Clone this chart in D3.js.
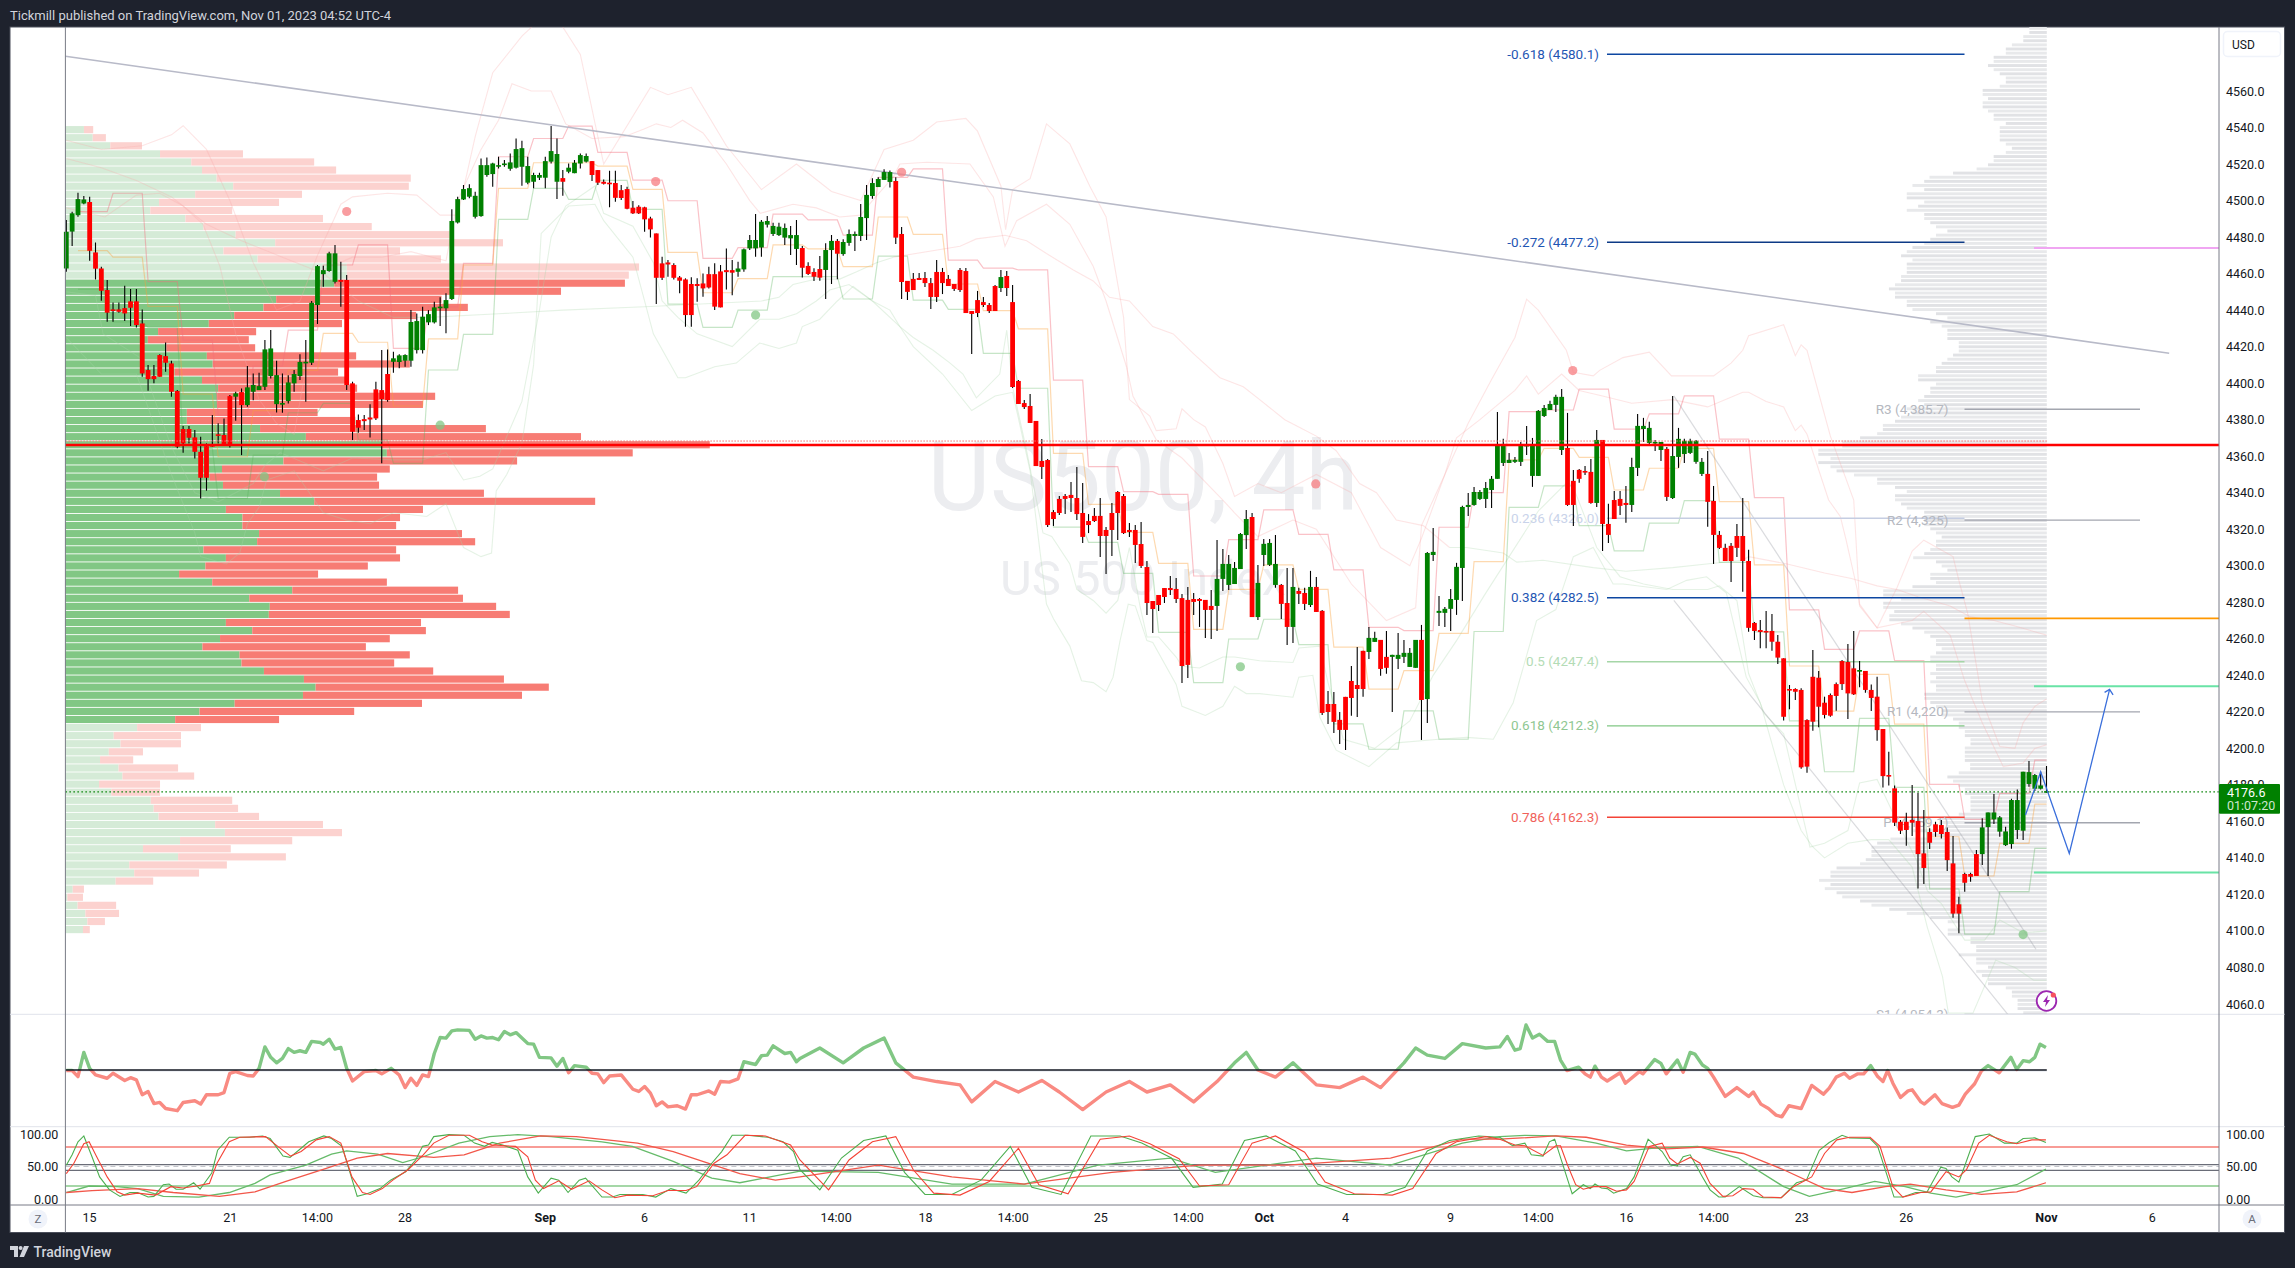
<!DOCTYPE html>
<html><head><meta charset="utf-8">
<script src="https://cdn.jsdelivr.net/npm/d3@7"></script>
<style>html,body{margin:0;padding:0;background:#1e222d;overflow:hidden}svg{display:block}text{font-family:Roboto,"Noto Sans",sans-serif}</style>
</head><body><svg id="c" width="2295" height="1268"></svg>
<script>
// [open, high, low, close]
const candlesAug=[[4462.8,4489.3,4461,4482.9],[4483,4493.9,4475.1,4493],[4492,4504.3,4491.1,4500.8],[4498.4,4502.5,4498,4500.6],[4499.2,4502.1,4467,4472.5],[4471.6,4477.1,4456.8,4462.7],[4462.8,4463.8,4445.1,4450.6],[4451,4456.5,4433.6,4438.6],[4440.4,4444.2,4433.6,4439.7],[4440.4,4444.2,4438.6,4439.1],[4441.1,4453.4,4434,4438.2],[4444.8,4451.5,4431.3,4441.3],[4444.8,4451.5,4430.5,4431.8],[4432.7,4440.4,4403.5,4405.3],[4407.2,4409.9,4395.9,4402.2],[4403.9,4409.9,4399.9,4402.2],[4415.4,4415.9,4403.5,4403.5],[4414.8,4422.3,4406.3,4411.2],[4410.8,4412.3,4392.6,4395.3],[4395.7,4396.2,4364.3,4365.2],[4374.9,4376.5,4361.9,4367],[4374.9,4376.5,4367,4370.1],[4370.3,4374.3,4358.8,4362.4],[4362.4,4370.7,4336.9,4348.2],[4365.5,4367,4341.1,4348.2],[4366.1,4382.5,4365.2,4365.5],[4372,4378,4367,4371.2],[4371.6,4380.7,4366.1,4366.6],[4392.9,4393.5,4364.8,4366.1],[4392.6,4395.3,4379.4,4394.4],[4395.1,4397.1,4360.6,4388],[4388,4409.4,4387.1,4397.7],[4395.3,4405.3,4390.7,4399],[4396.2,4405.7,4396.2,4398.4],[4398,4423.6,4396.2,4418.5],[4403.9,4429.1,4402.6,4419],[4388.5,4412.3,4384,4404.4],[4388.5,4405.3,4383.8,4389.1],[4390.2,4404.4,4388.9,4400.4],[4399.9,4407.2,4395.3,4405],[4403.9,4415.9,4401.7,4411.6],[4411.2,4423.6,4389.8,4411.7],[4411.2,4445,4409.9,4444],[4442.8,4464.7,4432.4,4464.1],[4459.7,4464.3,4452.8,4461.9],[4461.4,4472,4461,4471.1],[4455.5,4475.6,4454.6,4471.1],[4456.5,4466.5,4441.9,4455.5],[4456.5,4459.2,4396.2,4399],[4399.9,4400.8,4368.8,4373.4],[4379.8,4382.9,4372.8,4375.6],[4380.3,4382.5,4374.3,4379.2],[4381.2,4388.5,4370.3,4380.1],[4396.6,4400.8,4379.8,4380.7],[4396.2,4418.1,4356.1,4391.3],[4405,4418.5,4389.8,4390.7],[4411.7,4417.2,4405.7,4413.6],[4411.6,4415.9,4408.1,4415.2],[4412.3,4415.9,4409,4415.4],[4412.3,4440,4409,4433.5],[4418.1,4438.2,4416.3,4434],[4418.1,4441.9,4416.3,4436.4],[4433.3,4440,4431.8,4437.8],[4433.3,4444.6,4432.7,4441.5],[4441.3,4447,4431.3,4441.9],[4441,4449.2,4427.3,4445.5],[4446.1,4495.3,4445.5,4488.8],[4488,4502.1,4487.5,4500.8],[4500.6,4508.5,4500.3,4506.3],[4502.1,4509,4501.2,4506.8],[4491.1,4504.8,4490.2,4502.6],[4491.5,4523.1,4491.1,4519.4],[4514,4523.6,4513,4519.4],[4514.5,4520.7,4507.6,4520.3],[4518.9,4524,4517.6,4519.4],[4519.6,4522.2,4518.5,4520.3],[4517.4,4525.8,4516.3,4520.9],[4518,4534,4517.6,4528.2],[4518.5,4532.8,4508.1,4528.7],[4509.8,4524,4509,4518.9],[4510.3,4515.2,4506.7,4514],[4512.5,4515.2,4511.2,4514],[4512.5,4524,4506.7,4521.6],[4521.3,4540.8,4520.3,4527.1],[4510.3,4534,4500.8,4525.5]];
const candlesSep=[[4512.3,4516.7,4502.6,4510.3],[4515.8,4520.3,4514.9,4518],[4515,4522.2,4514.9,4520.7],[4520.3,4525.8,4517.6,4524.9],[4521.3,4525.8,4520.9,4524.4],[4521.6,4521.6,4510.7,4514],[4516.7,4516.7,4508.5,4509.8],[4510.3,4511.6,4508.8,4509.2],[4509.8,4516.3,4496.3,4509],[4509.6,4516.3,4499.4,4501.5],[4505.7,4508.5,4500.3,4501.4],[4506.3,4507.6,4495.2,4495.5],[4496.1,4499.7,4492.6,4493],[4496.6,4497.5,4492.6,4493],[4496.3,4496.6,4482.9,4489.7],[4490.2,4491.1,4479.8,4484.2],[4482,4482,4443.3,4457.7],[4465.6,4469.2,4456.5,4457.7],[4466.1,4467.4,4458.3,4465],[4464.7,4465.6,4456.8,4457.7],[4457.9,4458.7,4449.2,4456.1],[4456.8,4457.4,4430.9,4437.3],[4454.3,4458,4430.9,4437.3],[4454.3,4457.4,4444.6,4453.2],[4454.6,4460.1,4447.3,4451.9],[4459.7,4463.8,4451.9,4452.4],[4459.7,4465.6,4440,4441.9],[4461.2,4464.7,4441.5,4441.5],[4461.9,4473.8,4451.3,4460.8],[4461.9,4467.4,4448.2,4460.5],[4461,4466.5,4458.3,4462.8],[4462.3,4473.8,4461,4473.3],[4473.8,4481.1,4472.9,4478.4],[4473.8,4492.6,4469.2,4478.4],[4474.3,4489.3,4469.2,4488.4],[4486.8,4491.6,4485.2,4488.8],[4481.7,4487.9,4480.6,4486.1],[4481.1,4487.9,4480.6,4485.7],[4479.7,4487.5,4475.7,4485],[4479.3,4486.1,4470.2,4481.1],[4473.5,4489.4,4464.7,4481.1],[4474,4475.1,4457.8,4463.2],[4464.2,4466.2,4459.2,4459.8],[4460.9,4462.9,4456,4458.3],[4462.5,4469.6,4456.1,4457.8],[4462,4476.6,4446.1,4472.9],[4472.9,4481.1,4454.3,4477.9],[4477.9,4479,4456.9,4470.9],[4470.7,4478.8,4469.8,4477.3],[4476.8,4484.2,4475.3,4481.7],[4480.6,4483,4472.4,4481.7],[4480.6,4498.1,4477.9,4491],[4490.4,4508.5,4478.4,4503.1],[4502.5,4512.2,4501,4509.6],[4507.4,4512.7,4507.4,4511.8],[4511.3,4517.1,4511.3,4515.6],[4510.2,4516.4,4507.2,4515.6],[4510.7,4512.7,4476.2,4479.7],[4481.7,4485.5,4446.1,4455.4],[4456,4456,4445.5,4450],[4457.1,4460.3,4451,4451],[4457.6,4460.3,4456.5,4456.5],[4457.6,4460.9,4452.7,4454.8],[4454.8,4457.6,4440.6,4447.2],[4460.9,4467.4,4444.4,4447.2],[4460.9,4463.1,4448.8,4454.8],[4457.1,4459.2,4453.2,4453.2],[4454.3,4454.3,4450.5,4451.6],[4462,4463.1,4449.9,4451],[4461.4,4463.1,4438.4,4438.4],[4439.5,4439.5,4416,4437.9],[4445.5,4450.5,4436.2,4438.4],[4444.4,4447.2,4441.7,4442.8],[4442.8,4443.9,4438.4,4439.5],[4453.2,4453.8,4439.5,4439.5],[4452.1,4462,4449.9,4458.1],[4458.7,4461.4,4447.7,4452.1],[4444.4,4453.8,4397.3,4397.9],[4401.2,4401.7,4388.6,4388.6],[4389.1,4390.8,4385.8,4386.9],[4387.5,4394.1,4378.2,4378.2],[4379.3,4379.3,4354.6,4354.6],[4357.4,4369.4,4347.5,4354.1],[4357.9,4358.5,4321.2,4322.3],[4329.4,4330.5,4321.8,4325.6]];
const candlesOct=[[4336.6,4338.2,4327.8,4328.9],[4338.2,4339.3,4328.3,4336.6],[4338.8,4345.9,4329.4,4337.1],[4337.1,4354.1,4325,4328.3],[4328.9,4345.3,4312.5,4315.8],[4324.5,4328.3,4317.9,4322.3],[4327.3,4331.6,4324,4324.5],[4327.3,4337.1,4304.8,4316.3],[4319.6,4321.2,4295.5,4316.3],[4328.9,4334.4,4305.4,4319.6],[4340.4,4340.9,4314.1,4328.9],[4338.2,4339.3,4317.4,4317.9],[4319.6,4323.4,4315.8,4318.5],[4319.6,4322.3,4301.5,4311.4],[4311.9,4324,4298.8,4299.9],[4299.3,4302.6,4273,4279.6],[4280.7,4280.7,4263.2,4276.3],[4284,4284,4275.2,4278.5],[4287.8,4287.8,4279.6,4282.9],[4287.8,4294.4,4284,4286.7],[4287.3,4293.3,4279.6,4281.8],[4282.3,4284.5,4235.8,4245.1],[4281.3,4288.4,4238.5,4245.7],[4281.8,4285.1,4273,4280.2],[4281.8,4282.3,4266.5,4280.7],[4281.3,4281.3,4260.4,4275.8],[4278,4286.7,4259.9,4275.8],[4278,4314.1,4264.3,4292.8],[4292.8,4309.2,4286.2,4301],[4289.5,4305.9,4286.7,4301],[4290,4302.1,4290,4298.8],[4298.2,4317.9,4298.2,4317.4],[4316.8,4330.5,4309.2,4325.6],[4326.7,4328.9,4271.9,4271.9],[4271.9,4300.4,4270.3,4290.6],[4305.9,4314.7,4299.9,4312],[4300.5,4314.7,4299.9,4312.5],[4289.5,4316.9,4287.9,4301],[4289.5,4290,4270.9,4279.1],[4279.6,4298.8,4256.6,4266.5],[4266.5,4298.8,4257.7,4288.4],[4286.2,4287.9,4279.1,4284.6],[4285.1,4287.9,4275.8,4279.1],[4278.5,4297.2,4277.4,4288.4],[4288.4,4293.9,4274.7,4274.7],[4275.3,4275.8,4218.3,4219.4],[4224.3,4231.4,4213.4,4219.9],[4224.3,4230.9,4208.4,4214.5],[4215.6,4219.9,4202.4,4210.1],[4228.2,4228.2,4199.1,4210.1],[4236.9,4245.1,4217.8,4227.6],[4234.7,4255.5,4217.2,4232.5],[4253.4,4253.4,4228.2,4232.5],[4252.8,4266.5,4249,4260.5],[4258.3,4263.8,4258.3,4260.5],[4259.4,4259.4,4239.7,4243.5],[4250.1,4264.3,4240.8,4244.1],[4250.1,4251.2,4219.9,4251.2],[4249,4263.2,4243.5,4251.2],[4250.1,4259.4,4246.8,4252.3],[4244.6,4255,4244.6,4252.3],[4244.1,4259.4,4244.1,4259.4],[4259.4,4267.6,4204.6,4226.5],[4227,4307.6,4213.9,4307],[4305.9,4320.7,4302.6,4307.6],[4274.2,4283.5,4267,4275.3],[4274.2,4277.4,4266.5,4276.4],[4276.4,4287.3,4264.3,4281.8],[4281.3,4301.6,4273.1,4299.4],[4298.8,4332.8,4280.7,4332.2],[4332.2,4339.9,4327.3,4333.3],[4333.3,4343.2,4332.8,4340.4],[4336.6,4341.5,4336,4340.4],[4336.6,4345.9,4331.7,4342.6],[4341.5,4349.2,4331.7,4347.6],[4347.6,4384.2,4347.6,4366.2],[4356.3,4369.5,4354.7,4366.7],[4356.3,4361.8,4356.3,4358],[4356.9,4359.6,4356.3,4358],[4356.9,4367.8,4354.7,4366.2],[4365.6,4376.6,4360.7,4366.2],[4349.2,4370,4343.2,4366.7],[4349.2,4385.3,4349.2,4384.8],[4382,4388.1,4381.5,4386.4],[4385.3,4390.3,4385.3,4388.6]];
const candlesNov=[[4388.1,4393.6,4384.2,4392.5],[4363.4,4396.8,4360.7,4392.5],[4364.5,4383.7,4332.8,4333.3],[4346.5,4352.5,4321.8,4333.3],[4352.5,4353,4345.4,4347.6],[4351.9,4354.7,4349.7,4351.4],[4351.4,4358.5,4333.9,4334.4],[4334.4,4374.4,4332.2,4368.9],[4368.9,4368.9,4308.1,4322.9],[4322.9,4333.9,4312.5,4316.9],[4336,4341,4325.6,4325.6],[4336.6,4341,4327.8,4332.8],[4334.4,4343.7,4323.5,4333.3],[4333.3,4359.1,4329.5,4354.1],[4353.6,4383.1,4349.2,4376.6],[4374.9,4381,4367.8,4376.6],[4367.3,4378.8,4366.7,4375.5],[4367.3,4368.9,4362.9,4367.8],[4363.4,4367.8,4357.4,4367.8],[4364,4365.1,4335.5,4337.7],[4337.1,4393,4336.6,4360.1],[4359.6,4375.5,4353.6,4369.5],[4361.2,4369.5,4356.3,4368.4],[4361.8,4369.5,4361.2,4368.4],[4356.9,4368.9,4355.8,4368.4],[4350.3,4359,4349.2,4356.9],[4350.3,4362.9,4321.3,4335],[4335.5,4343.7,4301,4316.9],[4316.9,4319.1,4309.2,4309.8],[4309.8,4312,4302.6,4302.6],[4310.9,4312.5,4291.1,4302.6],[4316.3,4322.9,4304.8,4309.8],[4316.3,4337.1,4285.7,4302.6],[4302.6,4308.7,4263.8,4266],[4268.7,4269.2,4259.4,4264.3],[4264.8,4270.3,4254.8,4263.7],[4264.3,4275.2,4254.8,4263.5],[4264.3,4273.6,4253.5,4258.4],[4258.4,4262.1,4246.2,4249.7],[4249.3,4249.3,4215.2,4217.3],[4232.5,4234.7,4221.4,4232],[4232.5,4232.9,4226.5,4231],[4232,4232.9,4188.9,4189.6],[4215.5,4216,4186.7,4190],[4239.2,4253.9,4209.7,4214.6],[4238.7,4242.4,4211.5,4222.8],[4225,4228.3,4216.4,4218.3],[4229.2,4230.1,4217.3,4217.9],[4235.2,4236.1,4220.6,4228.7],[4247.8,4248.4,4232,4235.2],[4247.3,4257.1,4216.1,4230.1],[4243.8,4264.3,4229.2,4229.6],[4242,4247.8,4233.4,4242.9],[4242.4,4242.4,4230.5,4232],[4232,4235,4220.4,4227.6],[4228.3,4239.2,4204.2,4210],[4210.6,4210.6,4178.6,4184.8],[4185.4,4198.2,4179.6,4184.7],[4178.1,4179.7,4157.5,4159.3],[4159.8,4160.8,4153.1,4154.9],[4159.8,4164.8,4146.7,4155.3],[4160.8,4179.9,4152,4159.3],[4160.2,4175.7,4123.3,4142.1],[4142.5,4166.2,4125.7,4134.5],[4154.2,4156.2,4144.9,4148.3],[4158.4,4159.8,4151.6,4154.2],[4158,4160.8,4150.7,4153.1],[4154.2,4156.7,4132.8,4138.8],[4137,4152,4107.3,4109.5],[4114.6,4118.8,4098.7,4109.5],[4131.2,4131.9,4121.5,4126.4],[4131.2,4131.9,4127,4129.7],[4142.1,4144.3,4130.1,4130.1],[4142.1,4161.7,4136.1,4156.7],[4156.9,4164.9,4130.1,4164.9],[4161.1,4175,4158.6,4164.9],[4154.4,4163,4151.6,4162.2],[4147,4157.1,4146.5,4154.5],[4147.6,4172.4,4145,4171.7],[4155.3,4177.5,4150.3,4171.7],[4154.9,4187.2,4149.8,4187.2],[4180.5,4193.1,4179,4187],[4177.9,4185.9,4176.6,4185.4],[4177.9,4187.2,4177.5,4179.7],[4175.7,4190.3,4175.7,4176.6]];

const priceTicks=d3.range(4060,4561,20);
const vpUp=[38,56,92,194,258,280,310,344,266,192,174,246,283,349,430,324,394,577,577,551,512,432,406,346,294,190,169,207,290,302,224,280,313,311,311,249,249,399,493,649,659,447,321,296,323,440,510,329,363,363,397,393,283,329,287,233,301,465,377,419,417,329,383,317,281,357,361,407,489,513,487,347,275,225,147,99,113,89,71,109,117,69,94,175,181,191,307,327,235,159,231,131,141,103,15,4,25,41,45,36];
const vpDown=[19,27,65,170,252,275,398,360,219,246,168,282,345,439,467,362,376,599,578,596,504,339,419,373,273,201,207,182,306,404,335,296,285,447,422,268,345,463,564,672,504,479,344,343,320,418,576,404,323,315,416,447,395,357,333,285,358,340,438,464,494,400,356,348,335,349,313,347,410,478,449,384,317,213,131,138,124,70,68,122,147,125,100,167,173,206,221,240,230,180,221,200,133,77,23,32,79,69,36,14];
const vpRowsTopPrice=4540.8, vpRowStep=4.425, vpValueFirst=19, vpValueLast=73;
const profileUpper=[46,46,62,62,92,108,108,140,140,155,140,124,108,108,124,169,169,155,169,169,155,140,140,108,124,124,124,124,108,92,108,140,140,155,185,247,309,323,354,323,369,369,323,339,369,323,323,307,292,262,292,307,323,354,369,384,354,369,369,369,384,384,400,416,400,400,369,369,354,292,262,307,277,262,262,262,232,232,232,247,262,277,292,292,339,339,292,307,307,323,339,323,369,354,384,400,432,432,447,492,539,539,602,602,570,602,570,554,508,447,447,400,369,400,400,384];
const profileLower=[369,323,323,323,323,307,292,277,292,292,307,323,352,292,277,262,307,307,292,354,431,431,384,431,431,402,415,415,384,354,323,307,292,292,277,292,307,307,292,292,307,292,307,292,292,323,323,307,292,277,277,247,232,232,216,216,201,201,216,216,216,216,202,202,232,262,247,232,216,216,201,201,201,201,232,277,277,262,352,307,412,447,462,462,462,477,492,554,570,570,600,570,585,554,539,492,462,415,369,307,261,232,261,261,201,201,186,186,232,186,186,155,186,171,155,155,108,92,92,77,77,77,62];
const dayStarts=[2,8,14,20,26,32,38,44,50,56,62,68,74,80,86,91,97,103,109,115,121,127,133,139,145,151,157,163,169,175,181,187,193,199,205,211,217,223,229,235,241,247,253,259,265,271,277,283,289,295,301,307,313,319,325,331,337];
const upperLevels=[4493.9,4504,4455.6,4423.6,4382.5,4409.4,4429,4464.7,4475.7,4419,4441.9,4465.6,4524,4534,4540.8,4526.4,4511.2,4499.9,4468.3,4474.2,4492.6,4489.4,4481.1,4512.7,4517.3,4467.4,4463,4462,4401.7,4354.3,4340.6,4339.1,4294.4,4314.3,4330.6,4317.2,4297.7,4266.3,4264.5,4321.1,4340.1,4384.4,4385.3,4396.7,4374.8,4383.2,4393,4369.3,4337.3,4275.8,4254.2,4264.3,4248,4180.3,4161.1,4175.4,4193.6];
const midLevels=[4472.6,4469,4442,4394,4359.7,4385,4407,4427.3,4422.4,4387.5,4424.2,4464.7,4506.7,4520.7,4520.7,4518.9,4506.1,4471.6,4449.5,4457.2,4475.7,4473.5,4463.8,4491,4481.5,4454.3,4439.7,4429.7,4361.6,4333.6,4318.3,4301.3,4265.2,4287.1,4300.5,4287.1,4255.4,4232.4,4242.6,4263,4302.3,4358,4364.3,4359.4,4341.5,4353.4,4364.3,4335.1,4300.5,4245.1,4220.4,4240.5,4213.3,4151.6,4130.1,4148,4169.5];
const lowerLevels=[4451.4,4433.6,4430.5,4364.3,4336.9,4360.6,4383.8,4388.9,4368.8,4356.1,4407.2,4426.7,4489.7,4506.7,4500.6,4511,4495.2,4443.3,4430.5,4440,4458.3,4458.3,4446.1,4469.6,4445.5,4440.4,4416.3,4397.2,4321.2,4312.8,4295.8,4263.5,4236,4259.9,4270.7,4256.8,4213.4,4199.5,4220.5,4205,4264,4332,4343.7,4322,4308.1,4323.3,4335.7,4301.9,4263.8,4215,4187.2,4216.4,4178.6,4123,4098.3,4121.5,4145.2];

// faint envelope curves: [bar index, price]
const bandOuterUp=[[0,4533],[6,4528],[13,4530],[18,4536],[20,4541],[24,4528],[28,4500],[32,4466],[36,4440],[40,4445],[43,4470],[47,4498],[49,4502],[55,4504],[60,4503],[64,4492],[67,4492],[70,4535],[73,4570],[78,4590],[83,4605],[88,4580],[92,4520],[100,4562],[103,4558],[107,4562],[113,4530],[119,4506],[125,4520],[131,4505],[136,4500],[140,4528],[145,4533],[149,4543],[154,4545],[156,4538],[160,4508],[160.8,4484],[162,4506],[165,4512],[167.8,4542],[171.8,4531],[175.2,4508],[178,4491],[181,4436],[182,4391],[185.5,4382],[186.6,4374],[190,4375],[191,4386],[193,4380],[195,4376],[198,4356],[200,4338],[204,4345],[208,4340],[214,4350],[220,4340],[225,4310],[230,4300],[232,4315],[236,4350],[240,4378],[244,4402],[248,4425],[250,4446],[252,4440],[256.8,4418],[258,4406],[261.4,4404],[262.5,4407],[266.5,4414],[271,4417],[274.8,4404],[282,4404],[285,4411],[287,4418],[288,4426],[294,4432],[296,4415],[297,4421],[298,4418],[302,4371],[306,4336],[307,4279],[310,4266],[313.4,4288],[316,4308],[318,4314],[323,4305],[324,4292],[325.5,4274],[328,4226],[331,4201],[333.6,4200],[335,4214],[337,4223],[339,4227]];
const bandInnerUp=[[0,4496],[6.6,4491],[12,4503],[16,4504],[20,4497],[23.4,4487],[26.3,4464],[29,4427],[33,4391],[36,4378],[39,4372],[44,4462],[49,4469],[54,4469],[59,4472],[65,4467],[67,4500],[71,4528],[74,4544],[76.3,4564],[79.6,4560],[83,4560],[85.5,4542],[90,4534],[95.5,4535],[98.8,4539],[101,4542],[103.5,4540],[105.5,4544],[109,4537],[113,4520],[117,4500],[118.8,4493],[124.4,4498],[128.4,4496],[132.4,4491],[136,4492],[138,4500],[141.6,4513],[142.7,4520],[147.3,4521],[154.7,4520],[158.7,4502],[160.7,4475],[162.7,4489],[167.8,4498],[171.8,4487],[175.8,4464],[178,4445],[181.5,4409],[182.6,4393],[186.6,4369],[191,4359],[198,4336],[200,4329],[204,4316],[210,4325],[214,4320],[220,4290],[226,4270],[231,4277],[232,4322],[236,4350],[238,4370],[242,4380],[248,4396],[250,4404],[252,4394],[256,4405],[259,4396],[263,4393],[268,4389],[275,4391],[281,4387],[287,4395],[288,4395],[291,4390],[294,4387],[296,4374],[297,4377],[298,4372],[301.7,4336],[303.7,4327],[304.7,4314],[306.6,4287],[307,4278],[310,4266],[316,4270],[318,4275],[322.5,4262],[325,4237],[328,4214],[331.6,4190],[335,4192],[337,4200],[339,4202]];
const centerPinkA=[[0,4523],[6,4518],[12,4511],[18,4502],[24,4487],[30,4478],[37,4469],[44,4460],[50,4445]];
const centerGreenA=[[50,4445],[56,4436],[62,4436],[74,4438],[85,4440],[100,4442],[119,4445],[122,4447],[124.4,4454],[128.4,4457],[132.4,4457],[135.3,4461],[138.7,4466],[141.6,4469]];
const centerPinkB=[[141.6,4469],[153,4475],[155.8,4479],[160.7,4481],[164.4,4478],[167.8,4471],[172.4,4462],[175.8,4456],[178.6,4447],[182,4445],[186,4431],[189.5,4427],[193,4416],[197.5,4403],[201.5,4398],[204.3,4391],[208.6,4380],[214,4371],[217.4,4363],[221.4,4345],[224.3,4340],[227.7,4325],[232.3,4322],[236.8,4310]];
const centerGreenB=[[236.8,4310],[239.7,4310],[246,4307],[248.3,4302],[252.8,4303],[261.4,4299],[267,4297],[275,4299],[280.8,4301],[287,4303]];
const centerPinkC=[[287,4303],[288,4305],[294.6,4301],[301,4296],[305.6,4293],[310,4289],[313.4,4287],[317,4283],[322.5,4278],[326,4272],[330,4270],[333.6,4267],[339,4262]];
const bandInnerDown=[[0,4450],[5,4448],[6.3,4427],[12.6,4414],[18,4365],[22,4340],[26,4335],[32,4345],[34,4355],[36.6,4362],[44,4352],[49,4359],[56,4358],[61,4358],[65,4362],[68,4347],[70.8,4349],[73,4353],[78,4390],[81,4440],[83,4480],[85.5,4497],[90.5,4508],[92,4493],[97,4486],[100.5,4466],[102,4445],[104.7,4436],[108,4427],[114,4420],[118.7,4435],[122,4435],[125,4438],[128.4,4445],[130.7,4451],[134,4454],[138,4445],[141,4440],[142.7,4431],[145,4425],[148.4,4418],[151.3,4411],[153.5,4405],[155.8,4392],[159.8,4405],[161,4429],[162,4398],[164.4,4363],[167.2,4318],[168.7,4316],[171.8,4301],[173,4287],[175.8,4281],[178,4274],[180,4281],[182,4310],[183.8,4278],[185,4261],[187,4261],[190,4250],[191,4245],[194,4244],[198,4250],[200,4250],[204.3,4248],[210,4247],[211,4255],[214.6,4256],[216,4236],[218.6,4205],[224,4200],[230,4215],[234,4240],[238,4259],[243,4285],[247,4305],[252,4330],[257,4346],[258,4343],[262,4310],[266,4294],[270,4290],[275,4287],[281,4287],[283,4289],[286,4281],[288,4241],[290.7,4219],[294,4208],[298.5,4146],[301,4148],[305,4155],[307,4181],[310,4183],[312.8,4164],[316.7,4139],[318.6,4122],[321,4115],[325,4095],[328.4,4095],[331,4106],[335,4099],[339,4100]];
const bandOuterDown=[[0,4425],[6,4405],[12,4405],[18,4350],[22,4318],[23,4305],[27.4,4301],[29.7,4307],[31,4323],[33,4332],[34.3,4347],[39,4352],[44,4329],[48,4325],[52,4323],[56,4329],[61.7,4327],[65,4334],[68,4310],[71,4305],[72.8,4307],[73.6,4341],[75.4,4350],[78,4367],[80,4410],[81.3,4482],[86,4497],[90.5,4498],[92,4489],[97,4469],[100.5,4427],[104.7,4403],[106,4403],[111,4409],[114.7,4411],[118.7,4422],[122,4419],[125,4422],[126,4431],[129,4435],[132,4445],[134.7,4453],[138,4445],[142.7,4431],[145,4420],[150,4405],[155,4385],[159,4393],[162,4395],[165,4352],[167.8,4279],[169,4271],[171.8,4256],[173.8,4237],[175.8,4236],[178,4231],[179.2,4239],[180.4,4259],[181.8,4279],[183,4278],[185,4259],[186,4258],[190,4235],[191,4223],[195,4218],[198,4223],[200,4234],[202,4230],[204.3,4230],[210,4228],[211,4239],[213.4,4240],[214.6,4217],[217.4,4199],[223,4190],[227.7,4203],[235,4205],[239.7,4206],[244.3,4205],[247.7,4225],[251.7,4270],[255,4276],[258,4305],[261.4,4310],[264.8,4290],[266.5,4290],[274,4287],[277.4,4292],[280.8,4294],[284.2,4285],[287.6,4239],[290,4225],[294,4180],[297,4155],[299,4146],[301,4140],[305,4148],[309,4150],[312,4150],[316,4135],[318.6,4102],[321.2,4075],[322.2,4055],[326.4,4055],[330.3,4084],[333.6,4080],[336.8,4073],[339,4073]];

const fibRatios=["-0.618","-0.272","0.236","0.382","0.5","0.618","0.786"];
const fibPrices=[4580.1,4477.2,4326.0,4282.5,4247.4,4212.3,4162.3];
const fibTextColors=["#1f56b3","#1f56b3","#c9d3ea","#1f56b3","#b4dcb6","#8fc792","#f0625a"];
const fibLineColors=["#0d47a1","#0d3a86","#c5cde2","#0d47a1","#a5d6a7","#81c784","#f44336"];
const pivotNames=["R3 (4,385.7)","R2 (4,325)","R1 (4,220)","P (4,159.1)","S1 (4,054.3)"];
const pivotPrices=[4385.7,4325,4220,4159.3,4054.3];
const pocPrice=4366.1, pocDotted=4368.3, lastPrice=4176.2;
const lastPriceLabel="4176.6", countdownLabel="01:07:20";
const magentaLevel=4474, orangeLevel=4271.2, mintLevels=[4234,4132];
const trendLine=[[-0.15,4579],[360,4416.4]];
const channelA=[[275.2,4393],[337.2,4090]], channelB=[[275.2,4281],[332.7,4053]];
const zigzag=[[335.4,4163.5],[338,4187.2],[342.9,4142.5],[349.8,4232.3]];
const pinkDots=[[48,4494],[100.9,4510.4],[143,4515.5],[213.9,4344.8],[257.9,4406.9]];
const greenDots=[[33.9,4348.8],[64,4377],[118,4437.3],[201,4244.7],[335,4098]];

const cciLine=[[0,-1],[1,-1],[2,-12],[3,32],[4,3],[5,-9],[7,-15],[8,-6],[10,-19],[11,-14],[12,-18],[13,-45],[14,-39],[15,-61],[16,-59],[17,-70],[19,-74],[20,-59],[22,-56],[23,-62],[24,-45],[26,-45],[27,-41],[28,-6],[29,-3],[31,-10],[32,-11],[33,3],[34,42],[35,23],[36,13],[37,21],[38,39],[39,32],[40,35],[41,32],[42,52],[43.5,50],[44,47],[45,56],[46,38],[47,41],[48,3],[49,-20],[51,-3],[53,-1],[54,-7],[55.6,3],[57,-9],[58,-32],[59,-15],[60,-28],[61,-9],[62,-12],[63,30],[64,59],[65,58],[66,71],[67,73],[69,72],[70,56],[71,62],[72,58],[73,59],[74,55],[75,70],[76,64],[77,68],[79,48],[80,47],[81,23],[83,22],[84,7],[85,21],[86,-5],[87,8],[89,5],[90,-6],[91,-7],[92,-23],[93,-11],[95,-9],[97,-35],[98,-39],[99,-30],[100,-42],[101,-65],[102,-58],[103,-67],[104.6,-65],[106,-71],[107,-45],[108,-45],[110,-38],[111,-44],[112,-21],[113.5,-22],[115,-16],[116,15],[118,10],[119,26],[120,27],[121,44],[123,30],[124,32],[125,15],[125.6,21],[129,40],[133,13],[136.5,40],[140,58],[142,13],[145,-13],[149,-21],[153,-27],[155,-58],[159,-21],[163,-40],[167,-19],[170,-40],[174,-72],[178,-40],[182,-21],[185,-40],[189,-27],[193,-58],[197,-21],[200,13],[202,32],[204,0],[207,-13],[210,13],[214,-27],[218,-32],[222,-13],[225,-32],[229,13],[231,40],[233,27],[236,21],[239,48],[243,40],[245.4,42],[246.7,61],[248,36],[248.9,39],[249.9,82],[251,58],[252.2,65],[253.6,52],[254.8,52],[255.8,18],[256.9,-1],[258.9,5],[260,-7],[260.9,-13],[261.7,7],[262.8,-13],[263.8,-20],[266,-5],[266.9,-24],[269.3,-3],[269.9,-7],[271.9,19],[273,12],[273.9,-7],[275.8,18],[276.8,-4],[278,32],[278.8,29],[280.1,9],[281,3],[282,-13],[284,-48],[286,-32],[288,-48],[288.8,-40],[290.1,-62],[291.4,-70],[292.7,-82],[293.7,-85],[294.9,-65],[297,-70],[298.8,-28],[300.8,-44],[301.8,-33],[303,-13],[304.4,-6],[305.3,-15],[306.7,-7],[307.7,-7],[308.9,8],[310.1,-12],[311,-21],[311.8,-1],[312.7,-24],[314,-50],[315.3,-38],[316,-36],[317.5,-58],[318.1,-62],[319.9,-45],[321.1,-61],[322.9,-68],[324,-64],[325.1,-44],[326.7,-25],[327.9,-1],[329,8],[330.9,-5],[332.9,23],[333.9,1],[335,17],[336.1,15],[337,23],[337.9,47],[338.9,41]];

const stochFastGreen=[[0,52],[1,68],[2,88],[3,97],[4.4,65],[5.7,34],[7.4,14],[9.2,4],[10.9,10],[12.2,10],[14,3],[15,4],[16.6,22],[17.6,23],[18.8,15],[20,15],[21.8,25],[22.9,15],[24.9,40],[25.9,75],[27.9,95],[31.4,95],[33.6,97],[34.9,93],[37.1,66],[38.3,64],[40.2,78],[41.5,88],[44.1,97],[45.4,93],[47.2,81],[49.8,4],[51.5,8],[53.7,16],[55.5,29],[58.1,42],[59.8,60],[61,81],[62,83],[62.9,96],[65.5,99],[68.1,98],[69.9,86],[71.6,81],[72.9,87],[74.7,83],[77.3,75],[79,34],[80.8,9],[83,32],[84.3,29],[85.9,10],[87.8,29],[88.9,32],[91.7,3],[93.5,3],[94.8,7],[98.7,7],[100.9,3],[103.5,16],[106.1,9],[108.3,29],[110.5,55],[112.2,73],[114,98],[116.6,98],[120.1,95],[122.7,88],[124.5,73],[125.6,45],[129,14],[132.7,63],[136.5,90],[140.3,97],[143.5,41],[147,7],[151.6,7],[156.6,29],[161.6,81],[165.3,18],[170.3,7],[175.4,97],[180.4,97],[184.1,86],[189.2,63],[192.9,18],[197.9,23],[201.7,90],[205.4,97],[210.4,74],[214.2,23],[219.2,7],[225.5,7],[229.2,18],[233,74],[236.8,90],[241.8,97],[245.4,95],[247.6,82],[249.7,86],[250.8,68],[252.8,66],[253.9,88],[254.8,92],[257.8,8],[259.7,22],[260.9,16],[261.7,23],[262.8,17],[263.8,16],[264.9,9],[267.1,16],[268.4,34],[270.8,92],[273.2,73],[274.7,52],[275.8,51],[276.8,65],[278,68],[280.1,34],[281.4,14],[282.9,3],[284,3],[286.4,19],[288.8,5],[290.5,2],[293.6,2],[296.2,25],[297.9,29],[300.1,75],[301.8,87],[304,98],[305.3,94],[308.8,93],[310.1,81],[312.9,3],[314.4,3],[316.6,10],[318.5,10],[320.9,49],[321.8,47],[322.8,34],[324,26],[326.8,96],[329.2,100],[331.8,86],[333.9,86],[335,93],[337,94],[338.9,87]];
const stochFastRed=[[0,39],[1.3,55],[3,85],[3.9,88],[5.2,65],[7,34],[8.7,11],[10,6],[12.2,9],[15.3,6],[17.9,19],[20,17],[22.3,20],[24.5,24],[25.8,55],[27.9,88],[29.7,95],[34.1,96],[36.2,81],[38.4,66],[40.2,73],[42.8,91],[45,96],[47,86],[48.9,34],[50.7,10],[52,7],[54.1,16],[55.9,29],[58.5,45],[61.1,68],[62.9,86],[65.5,98],[69,98],[71.2,88],[72.9,83],[76.9,81],[79,65],[80.3,29],[81.7,16],[84.3,28],[86.5,15],[89.5,28],[91.7,14],[93.9,2],[96.1,6],[100.4,5],[103,13],[106.1,13],[107.9,19],[110.9,55],[113.1,68],[116.2,98],[119.7,97],[124,83],[125.6,60],[130.5,14],[134,60],[138,88],[142,96],[145,45],[148.5,9],[153,6],[158,27],[163,78],[166.5,22],[171.5,8],[177,92],[182,97],[185.5,85],[190.5,62],[194,20],[199,22],[203,86],[207,97],[212,72],[215.5,26],[220.5,8],[227,6],[230.5,16],[234.5,70],[238,88],[243,96],[245.4,92],[248,83],[249.7,82],[252.8,67],[255,82],[255.8,82],[257.1,50],[258.4,22],[259.7,15],[261.5,19],[263.6,19],[265.4,12],[267.1,14],[268.4,27],[271,81],[273.2,86],[274.5,63],[275.8,54],[278,64],[279.7,55],[281.4,24],[283.6,4],[285.3,5],[287.1,16],[288.8,15],[290.5,3],[293.6,2],[295.7,19],[298.8,34],[301,70],[303.1,91],[305.3,95],[308.8,95],[310.5,81],[312.7,19],[314.4,3],[317.5,10],[319.2,11],[321.8,42],[324,34],[325.3,45],[327.4,86],[329.2,98],[332.2,88],[333.9,85],[336.5,91],[338.9,91]];
const stochSlowGreen=[[0,10],[3.9,20],[8.7,19],[12.2,16],[16.6,4],[22.7,3],[27.9,10],[32.3,24],[34.9,37],[41,52],[45.4,69],[48,74],[53.3,69],[57.6,56],[61.1,65],[67.2,86],[72.5,96],[77.3,99],[83,96],[91.7,88],[96.9,81],[103.9,58],[110.5,32],[115.3,25],[120.5,34],[125.6,43],[139,41],[151.6,23],[164,23],[176.6,52],[189,63],[196.7,41],[214,63],[226.7,52],[239,86],[245.4,96],[249.7,98],[255,97],[261.9,86],[267.1,74],[271.4,78],[279.3,81],[286.2,63],[294,19],[298.4,4],[304.4,16],[309.6,27],[314.8,19],[319.2,9],[323.5,3],[329.6,14],[333.9,22],[338.9,46]];
const stochSlowRed=[[0,10],[4.4,13],[12.2,16],[18.3,10],[26.2,4],[32.3,11],[37.6,27],[44.5,47],[49.8,63],[55,70],[62.9,64],[68.1,68],[74.2,86],[81.2,97],[87.3,96],[97.8,86],[103.9,73],[110.9,52],[115.3,39],[121.4,29],[125.6,34],[139,52],[151.6,34],[164,23],[179,41],[194,52],[209,52],[226.7,63],[239,92],[245.4,92],[255,97],[260.2,95],[267.1,83],[274,77],[280.1,80],[287.1,70],[294,45],[301,16],[305.7,10],[311.4,19],[315.7,23],[321.8,14],[327.9,7],[333.9,11],[338.9,25]];
const stochLevels=[80,20], stochBand=[53,44], stochMid=50;
const stochLabels=[100,50,0];
const timeTickIdx=[3.9,28,42.9,57.9,81.9,98.9,116.9,131.7,147,162,177,192,205,218.9,236.9,251.9,267,281.9,297,314.9,338.9,357];
const timeTickText=["15","21","14:00","28","Sep","6","11","14:00","18","14:00","25","14:00","Oct","4","9","14:00","16","14:00","23","26","Nov","6"];

const candles=[...candlesAug,...candlesSep,...candlesOct,...candlesNov];
const svg=d3.select("#c");
const L={frameL:10,frameR:2284.5,top:27,bot:1232.5,axis:2219,paneL:65.4,mainB:1014.3,cciB:1126.7,stochB:1205,profileR:2046.8};
const x=d3.scaleLinear().domain([0,candles.length-1]).range([66.3,2046.5]);
const y=d3.scaleLinear().domain([4560,4060]).range([91,1004]);
const yC=d3.scaleLinear().domain([0,-100]).range([1070,1125]);
const yS=d3.scaleLinear().domain([0,100]).range([1199,1134]);
const vpW=d3.scaleLinear().domain([0,1000]).range([0,1000/2.05]);
const prW=d3.scaleLinear().domain([0,1000]).range([0,1000/2.635]);

const defs=svg.append("defs");
const clip=(id,a,b,c,d)=>defs.append("clipPath").attr("id",id).append("rect").attr("x",a).attr("y",b).attr("width",c-a).attr("height",d-b);
clip("main",L.frameL,L.top,L.axis,L.mainB);
clip("cciUp",L.paneL,L.mainB,L.axis,yC(0));
clip("cciDn",L.paneL,yC(0),L.axis,L.cciB);
clip("cciAxis",L.axis,L.mainB,L.frameR,L.cciB);

svg.append("rect").attr("width",2295).attr("height",1268).attr("fill","#1e222d");
svg.append("rect").attr("x",L.frameL).attr("y",L.top).attr("width",L.frameR-L.frameL).attr("height",L.bot-L.top).attr("fill","#fff").attr("stroke","#4a4e5a").attr("stroke-width",1);
svg.append("text").attr("x",10).attr("y",19.5).attr("fill","#d1d4dc").attr("font-size",13).text("Tickmill published on TradingView.com, Nov 01, 2023 04:52 UTC-4");

const main=svg.append("g").attr("clip-path","url(#main)");
// watermark
main.append("text").attr("x",1143).attr("y",510).attr("text-anchor","middle").attr("fill","#ecedf0").attr("font-size",96).attr("font-family","Inter,Roboto").text("US500, 4h");
main.append("text").attr("x",1143).attr("y",595).attr("text-anchor","middle").attr("fill","#ecedf0").attr("font-size",49).attr("font-family","Inter,Roboto").text("US 500 Index");

// right profile
const profile=[...profileUpper,...profileLower];
const prY=d3.scaleLinear().domain([0,profile.length-1]).range([4594.3,4055.2]);
main.append("g").selectAll("rect").data(profile).join("rect")
 .attr("x",d=>L.profileR-prW(d)).attr("width",d=>prW(d)).attr("y",(d,i)=>y(prY(i))-1.5).attr("height",2.9)
 .attr("fill",(d,i)=>i%2?"#e1e2e5":"#e8e9eb");

// left profile
const vpG=main.append("g");
const rowH=y(vpRowsTopPrice-vpRowStep)-y(vpRowsTopPrice)-0.9;
vpUp.forEach((u,i)=>{
  const on=i>=vpValueFirst&&i<=vpValueLast, t=y(vpRowsTopPrice-i*vpRowStep);
  vpG.append("rect").attr("x",L.paneL).attr("y",t).attr("width",vpW(u)).attr("height",rowH).attr("fill",on?"#81c784":"#d5ebd7");
  vpG.append("rect").attr("x",L.paneL+vpW(u)).attr("y",t).attr("width",vpW(vpDown[i])).attr("height",rowH).attr("fill",on?"#f77c74":"#fcd2cf");
});

// faint curves
const ln=d3.line().x(d=>x(d[0])).y(d=>y(d[1]));
const faint=(d,c,w=1.2,o=1)=>main.append("path").attr("d",ln(d)).attr("fill","none").attr("stroke",c).attr("stroke-width",w).attr("opacity",o);
const PK="#f8a8a8",GR="#a8d4aa";
[bandOuterUp,bandInnerUp,centerPinkA,centerPinkB,centerPinkC].forEach(d=>faint(d,PK,1.1,.3));
[bandInnerDown,bandOuterDown,centerGreenA,centerGreenB].forEach(d=>faint(d,GR,1.1,.3));

// daily step lines
const steps=lv=>dayStarts.flatMap((s,i)=>[[s,lv[i]],[Math.min((dayStarts[i+1]||candles.length)-1,candles.length-1),lv[i]]]);
faint(steps(upperLevels),"#f26d7d",1.2,.42);
faint(steps(midLevels),"#fb9f3a",1.2,.4);
faint(steps(lowerLevels),"#58b25c",1.2,.34);

// channel & trend lines
[channelA,channelB].forEach(d=>faint(d,"#9598a1",1.2,.35));
faint(trendLine,"#b8bac8",1.6,1);

// fib levels
fibPrices.forEach((p,i)=>{
  main.append("line").attr("x1",1607).attr("x2",1964.5).attr("y1",y(p)).attr("y2",y(p)).attr("stroke",fibLineColors[i]).attr("stroke-width",1.4);
  main.append("text").attr("x",1599).attr("y",y(p)+4.5).attr("text-anchor","end").attr("font-size",13.5).attr("fill",fibTextColors[i]).text(`${fibRatios[i]} (${p.toFixed(1)})`);
});
// pivots
pivotPrices.forEach((p,i)=>{
  main.append("line").attr("x1",1964.5).attr("x2",2140).attr("y1",y(p)).attr("y2",y(p)).attr("stroke","#a3a6af").attr("stroke-width",1.4);
  main.append("text").attr("x",1948.5).attr("y",y(p)+4.5).attr("text-anchor","end").attr("font-size",13.5).attr("fill","#b5b8c0").text(pivotNames[i]);
});
// horizontal rays
const ray=(x1,p,c,w)=>main.append("line").attr("x1",x1).attr("x2",L.axis).attr("y1",y(p)).attr("y2",y(p)).attr("stroke",c).attr("stroke-width",w);
ray(2034,magentaLevel,"#f0a6f2",2);
ray(1964.5,orangeLevel,"#ff9800",1.6);
mintLevels.forEach(p=>ray(2034,p,"#69e3a6",2));

// candles
const cg=main.append("g");
cg.selectAll("line").data(candles).join("line").attr("x1",(d,i)=>x(i)).attr("x2",(d,i)=>x(i)).attr("y1",d=>y(d[1])).attr("y2",d=>y(d[2])).attr("stroke","#000").attr("stroke-width",1.1);
cg.selectAll("rect").data(candles).join("rect").attr("x",(d,i)=>x(i)-2.4).attr("width",4.8)
 .attr("y",d=>y(Math.max(d[0],d[3]))).attr("height",d=>Math.max(1.6,Math.abs(y(d[0])-y(d[3]))))
 .attr("fill",d=>d[3]>=d[0]?"#008000":"#ff0000");

// POC & dotted lines
main.append("line").attr("x1",L.paneL).attr("x2",L.profileR).attr("y1",y(pocDotted)).attr("y2",y(pocDotted)).attr("stroke","#f26d6d").attr("stroke-width",1).attr("stroke-dasharray","1.5 1.5");
main.append("line").attr("x1",L.paneL).attr("x2",L.axis).attr("y1",y(pocPrice)).attr("y2",y(pocPrice)).attr("stroke","#ff0000").attr("stroke-width",2.6);
main.append("line").attr("x1",L.paneL).attr("x2",L.axis).attr("y1",y(lastPrice)).attr("y2",y(lastPrice)).attr("stroke","#008000").attr("stroke-width",1.2).attr("stroke-dasharray","1.5 2.5");

// signal dots
main.append("g").selectAll("circle").data(pinkDots).join("circle").attr("cx",d=>x(d[0])).attr("cy",d=>y(d[1])).attr("r",4.6).attr("fill","#f77c80").attr("opacity",.75);
main.append("g").selectAll("circle").data(greenDots).join("circle").attr("cx",d=>x(d[0])).attr("cy",d=>y(d[1])).attr("r",4.6).attr("fill","#81c784").attr("opacity",.75);

// forecast arrow
main.append("path").attr("d",ln(zigzag)).attr("fill","none").attr("stroke","#3a6fdb").attr("stroke-width",1.3);
const tip=zigzag[zigzag.length-1];
main.append("path").attr("d",`M${x(tip[0])-5},${y(tip[1])+3}L${x(tip[0])},${y(tip[1])}L${x(tip[0])+3.5},${y(tip[1])+5.5}`).attr("fill","none").attr("stroke","#3a6fdb").attr("stroke-width",1.3);

// bolt badge
const b=svg.append("g").attr("transform","translate(2046.5,1001)");
b.append("circle").attr("r",9.8).attr("fill","#fff").attr("stroke","#9c27b0").attr("stroke-width",1.8);
b.append("path").attr("d","M1.5,-6 L-3.5,1 L-0.5,1 L-1.5,6 L3.5,-1 L0.5,-1 Z").attr("fill","#9c27b0");
b.append("circle").attr("cx",6.8).attr("cy",-6).attr("r",2.6).attr("fill","#f7525f");

// CCI pane
const lnC=d3.line().x(d=>x(d[0])).y(d=>yC(d[1]));
svg.append("line").attr("x1",L.paneL).attr("x2",L.profileR).attr("y1",yC(0)+1).attr("y2",yC(0)+1).attr("stroke","#e0e3eb").attr("stroke-width",1);
svg.append("path").attr("d",lnC(cciLine)).attr("fill","none").attr("stroke","#81c784").attr("stroke-width",3.4).attr("stroke-linejoin","round").attr("clip-path","url(#cciUp)");
svg.append("path").attr("d",lnC(cciLine)).attr("fill","none").attr("stroke","#f98a82").attr("stroke-width",3.4).attr("stroke-linejoin","round").attr("clip-path","url(#cciDn)");
svg.append("line").attr("x1",L.paneL).attr("x2",L.profileR).attr("y1",yC(0)).attr("y2",yC(0)).attr("stroke","#131722").attr("stroke-width",1.4);

// Stochastic pane
const lnS=d3.line().x(d=>x(d[0])).y(d=>yS(d[1]));
svg.append("line").attr("x1",L.paneL).attr("x2",L.axis).attr("y1",yS(stochLevels[0])).attr("y2",yS(stochLevels[0])).attr("stroke","#f23a2e").attr("stroke-width",1.2);
svg.append("line").attr("x1",L.paneL).attr("x2",L.axis).attr("y1",yS(stochLevels[1])).attr("y2",yS(stochLevels[1])).attr("stroke","#4caf50").attr("stroke-width",1.2);
stochBand.forEach(v=>svg.append("line").attr("x1",L.paneL).attr("x2",L.axis).attr("y1",yS(v)).attr("y2",yS(v)).attr("stroke","#6a6d78").attr("stroke-width",1.2));
svg.append("line").attr("x1",L.paneL).attr("x2",L.axis).attr("y1",yS(stochMid)).attr("y2",yS(stochMid)).attr("stroke","#c4c6cc").attr("stroke-width",1).attr("stroke-dasharray","5 4");
[[stochSlowGreen,"#66bb6a",1.3],[stochSlowRed,"#f2574a",1.3],[stochFastGreen,"#4caf50",1.1],[stochFastRed,"#f44336",1.1]].forEach(([d,c,w])=>
  svg.append("path").attr("d",lnS(d)).attr("fill","none").attr("stroke",c).attr("stroke-width",w));

// frame lines
const sep=(y0,c)=>svg.append("line").attr("x1",L.frameL).attr("x2",L.frameR).attr("y1",y0).attr("y2",y0).attr("stroke",c).attr("stroke-width",1);
sep(L.mainB,"#e0e3eb"); sep(L.cciB,"#e0e3eb"); sep(L.stochB,"#787b86");
[L.paneL,L.axis].forEach(xx=>svg.append("line").attr("x1",xx).attr("x2",xx).attr("y1",L.top).attr("y2",L.bot).attr("stroke","#787b86").attr("stroke-width",1));

// axes
const styleAxis=g=>{g.select(".domain").remove();g.selectAll(".tick line").remove();g.selectAll("text").attr("font-family","Roboto").attr("font-size",12.5).attr("fill","#131722");};
svg.append("g").attr("transform",`translate(${L.axis},0)`).call(d3.axisRight(y).tickValues(priceTicks).tickFormat(d3.format(".1f")).tickSize(0).tickPadding(7)).call(styleAxis);
svg.append("g").attr("transform",`translate(${L.axis},0)`).attr("clip-path","url(#cciAxis)").append("g")
  .call(d3.axisRight(yC).tickValues([0,-100]).tickFormat(d=>d3.format(".1f")(d).replace("-","\u2212")).tickSize(0).tickPadding(7)).call(styleAxis);
svg.append("g").attr("transform",`translate(${L.axis},0)`).call(d3.axisRight(yS).tickValues(stochLabels).tickFormat(d3.format(".2f")).tickSize(0).tickPadding(7)).call(styleAxis);
svg.append("g").attr("transform",`translate(${L.paneL-7},0)`).call(d3.axisLeft(yS).tickValues(stochLabels).tickFormat(d3.format(".2f")).tickSize(0).tickPadding(0)).call(styleAxis);
const tg=svg.append("g").attr("transform",`translate(0,${L.stochB+8.5})`).call(d3.axisBottom(x).tickValues(timeTickIdx.map((d,i)=>d+i*1e-6)).tickFormat((d,i)=>timeTickText[i]).tickSize(0).tickPadding(0)).call(styleAxis);
tg.selectAll("text").attr("font-weight",(d,i)=>/[A-Z]/.test(timeTickText[i])?700:400);

// price tag
svg.append("rect").attr("x",L.axis).attr("y",784).attr("width",61).attr("height",29.7).attr("rx",1).attr("fill","#008000");
svg.append("text").attr("x",2227).attr("y",797).attr("fill","#fff").attr("font-size",12.5).text(lastPriceLabel);
svg.append("text").attr("x",2227).attr("y",809.5).attr("fill","#cfe6cf").attr("font-size",12.5).text(countdownLabel);

// USD box
svg.append("rect").attr("x",2223.5).attr("y",31.5).attr("width",57).attr("height",25).attr("rx",4).attr("fill","#fff").attr("stroke","#f0f3fa").attr("stroke-width",1.5);
svg.append("text").attr("x",2232).attr("y",48.5).attr("font-size",12).attr("fill","#131722").text("USD");
// Z / A buttons
[[38,"Z"],[2252,"A"]].forEach(([cx,t])=>{
  svg.append("ellipse").attr("cx",cx).attr("cy",1219).attr("rx",9.5).attr("ry",9.5).attr("fill","#f0f3fa");
  svg.append("text").attr("x",cx).attr("y",1223).attr("text-anchor","middle").attr("font-size",11.5).attr("fill","#6a6d78").text(t);
});

// brand
const logo=svg.append("g").attr("fill","#d1d4dc").attr("transform","translate(10,1246)");
logo.append("path").attr("d","M0,0H8V11H4V4H0Z");
logo.append("circle").attr("cx",10.6).attr("cy",2).attr("r",2);
logo.append("path").attr("d","M14,0H19L14,11H9.5Z");
svg.append("text").attr("x",33.5).attr("y",1256.5).attr("fill","#d1d4dc").attr("font-size",14).attr("font-weight",500).text("TradingView");
</script></body></html>
